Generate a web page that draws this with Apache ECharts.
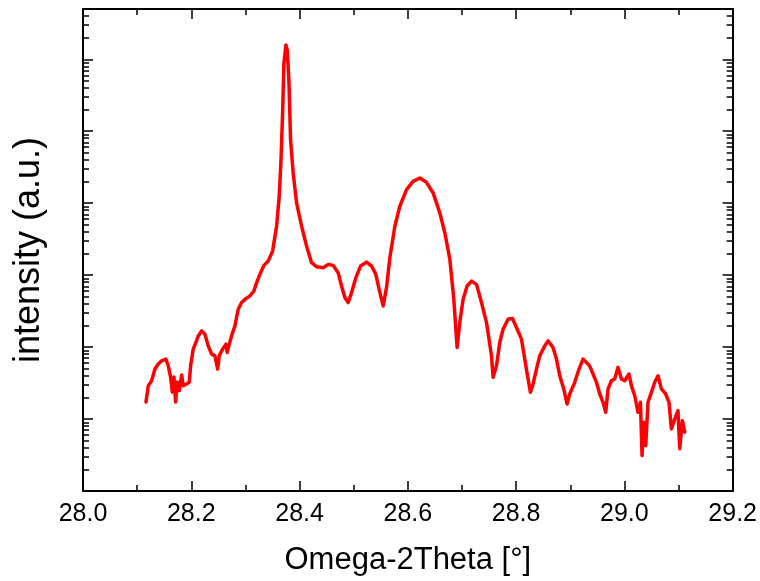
<!DOCTYPE html>
<html>
<head>
<meta charset="utf-8">
<script src="https://cdn.jsdelivr.net/npm/echarts@6/dist/echarts.min.js"></script>
<style>
html,body{margin:0;padding:0;background:#fff;}
#chart{width:760px;height:581px;}
</style>
</head>
<body>
<div id="chart"></div>
<script>
// Omega-2Theta angle (deg)
const angle = [
28.1163,28.1206,28.1268,28.1329,28.1390,28.1453,28.1532,28.1575,28.1619,28.1649,
28.1680,28.1711,28.1741,28.1778,28.1822,28.1852,28.1914,28.1962,28.1988,28.2036,
28.2086,28.2129,28.2191,28.2252,28.2313,28.2376,28.2437,28.2487,28.2516,28.2579,
28.2640,28.2664,28.2701,28.2745,28.2806,28.2867,28.2930,28.3009,28.3083,28.3157,
28.3207,28.3281,28.3342,28.3421,28.3502,28.3576,28.3624,28.3655,28.3687,28.3711,
28.3748,28.3772,28.3803,28.3834,28.3882,28.3945,28.4038,28.4130,28.4222,28.4314,
28.4436,28.4529,28.4621,28.4713,28.4776,28.4837,28.4898,28.4961,28.5040,28.5127,
28.5238,28.5330,28.5409,28.5470,28.5544,28.5607,28.5668,28.5760,28.5852,28.5976,
28.6098,28.6222,28.6345,28.6467,28.6591,28.6683,28.6776,28.6849,28.6910,28.6960,
28.7021,28.7095,28.7176,28.7268,28.7361,28.7453,28.7545,28.7575,28.7638,28.7698,
28.7759,28.7852,28.7933,28.8007,28.8099,28.8160,28.8221,28.8265,28.8313,28.8376,
28.8437,28.8529,28.8590,28.8682,28.8745,28.8806,28.8880,28.8941,28.8991,28.9083,
28.9162,28.9236,28.9299,28.9360,28.9434,28.9484,28.9545,28.9606,28.9655,28.9698,
28.9760,28.9821,28.9882,28.9945,29.0006,29.0085,29.0130,29.0191,29.0252,29.0296,
29.0326,29.0357,29.0394,29.0436,29.0499,29.0560,29.0621,29.0684,29.0763,29.0824,
29.0868,29.0929,29.0990,29.1022,29.1071,29.1114
];
// intensity (a.u.)
const intensity = [
17.3,29.1,34.1,49.5,58.1,64.5,68.1,55.0,38.0,23.8,
38.3,17.3,32.7,24.8,40.9,29.1,30.7,32.4,55.0,93.7,
116,143,168,151,104,79.9,75.7,49.5,75.7,93.7,
110,84.4,110,143,197,336,416,472,513,602,
787,1083,1367,1568,2157,4789,12470,36200,178400,879800,
1577000,1345000,516300,76100,26310,10100,4789,2530,1490,1311,
1270,1411,1367,1083,706,488,416,572,923,1337,
1518,1337,1026,635,373,677,1747,4789,9065,15440,
20120,22430,19500,13900,7343,3879,1655,462,98.9,220,
462,706,828,745,416,220,75.7,38.0,55.0,116,
177,244,250,187,129,68.1,36.0,23.5,30.7,49.5,
75.7,104,122,98.9,68.1,40.0,26.2,16.2,22.3,32.4,
49.5,68.1,61.3,54.5,40.0,32.4,22.3,17.1,12.4,26.2,
34.1,36.0,52.3,36.0,34.1,42.2,29.1,21.1,12.4,17.1,
3.11,9.04,4.28,17.1,23.5,32.4,40.0,26.2,22.3,17.1,
7.30,10.0,13.1,3.86,9.51,6.57
];
const xTicks = ['28.0','28.2','28.4','28.6','28.8','29.0','29.2'];
const yMin = 1, yMax = 5e6;

const lg = v => Math.log10(v);
const seriesData = angle.map((a, i) => [a, lg(intensity[i])]);
const minorVals = [];
for (let n = 0; n <= 6; n++) {
  for (let k = 2; k <= 9; k++) {
    const v = k * Math.pow(10, n);
    if (v <= yMax) minorVals.push(lg(v));
  }
}
const FONT = "Arial, 'Liberation Sans', sans-serif";
const lineStyle = {color: '#000', width: 2};
function xAx(pos, labels) {
  return {
    type: 'value', position: pos, min: 28.0, max: 29.2, interval: 0.2,
    axisLine: {show: true, onZero: false, lineStyle},
    axisTick: {show: true, inside: true, length: 10, lineStyle: {color: '#000', width: 1.5}},
    minorTick: {show: true, splitNumber: 2, length: 6, lineStyle: {color: '#000', width: 1.5}},
    splitLine: {show: false}, minorSplitLine: {show: false},
    axisLabel: {show: labels, margin: 11, fontSize: 25, color: '#000', fontFamily: FONT,
      formatter: v => xTicks[Math.round((v - 28) / 0.2)] || v.toFixed(1)},
    name: labels ? 'Omega-2Theta [°]' : '', nameLocation: 'middle', nameGap: 54,
    nameTextStyle: {fontSize: 31, color: '#000', fontFamily: FONT}
  };
}
function yAx(pos, major, name) {
  const a = {
    type: 'value', position: pos, min: lg(yMin), max: lg(yMax),
    axisLine: {show: major, onZero: false, lineStyle},
    axisTick: {show: true, inside: true, length: major ? 10 : 6, lineStyle: {color: '#000', width: 1.5}},
    splitLine: {show: false},
    axisLabel: {show: false}
  };
  if (major) { a.interval = 1; }
  else { a.axisTick.customValues = minorVals; }
  if (name) {
    a.name = name; a.nameLocation = 'middle'; a.nameGap = 36; a.nameRotate = 90;
    a.nameTextStyle = {fontSize: 36, color: '#000', fontFamily: FONT};
  }
  return a;
}
const chart = echarts.init(document.getElementById('chart'), null, {renderer: 'canvas'});
chart.setOption({
  animation: false,
  backgroundColor: '#fff',
  grid: {left: 83, right: 27, top: 9, bottom: 89, containLabel: false},
  xAxis: [xAx('bottom', true), xAx('top', false)],
  yAxis: [yAx('left', true, 'intensity (a.u.)'), yAx('left', false), yAx('right', true), yAx('right', false)],
  series: [{
    type: 'line', data: seriesData, xAxisIndex: 0, yAxisIndex: 0,
    showSymbol: false, symbol: 'none', smooth: false,
    lineStyle: {color: '#ff0000', width: 3.5, join: 'round', cap: 'round'}
  }]
});
</script>
</body>
</html>
